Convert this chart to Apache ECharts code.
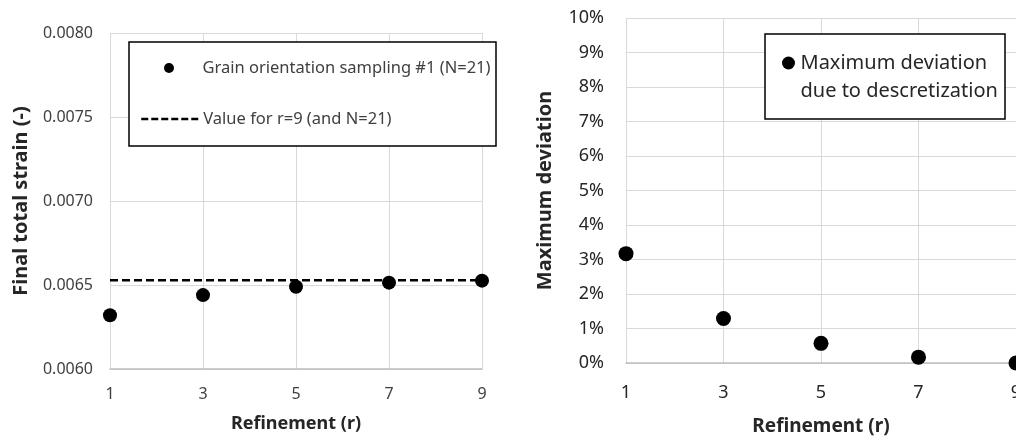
<!DOCTYPE html>
<html>
<head>
<meta charset="utf-8">
<script src="https://cdn.jsdelivr.net/npm/echarts@6/dist/echarts.min.js"></script>
<style>
html,body{margin:0;padding:0;background:#fff;}
#chart{width:1016px;height:439px;}
</style>
</head>
<body>
<div id="chart"></div>
<script>
// ---- data ----
const refinements = ['1', '3', '5', '7', '9'];
const finalStrain = [0.00632, 0.00644, 0.00649, 0.006514, 0.006526];
const refValueR9 = 0.006528;
const maxDeviationPct = [3.17, 1.29, 0.57, 0.17, 0.0];

const strainSeriesName = 'Grain orientation sampling #1 (N=21)';
const refSeriesName = 'Value for r=9 (and N=21)';
const devSeriesName = 'Maximum deviation\ndue to descretization';

const FONT = '"Noto Sans", sans-serif';

const chart = echarts.init(document.getElementById('chart'), null, {renderer: 'canvas'});

const option = {
  backgroundColor: '#ffffff',
  animation: false,
  textStyle: {fontFamily: FONT},
  grid: [
    {left: 110, right: 534, top: 33, bottom: 70, outerBoundsMode: 'none', containLabel: false},
    {left: 626, right: 0, top: 18, bottom: 76, outerBoundsMode: 'none', containLabel: false}
  ],
  xAxis: [
    {
      gridIndex: 0, type: 'category', data: refinements, boundaryGap: false,
      name: 'Refinement (r)', nameLocation: 'middle', nameGap: 46,
      nameTextStyle: {fontFamily: FONT, fontSize: 18, fontWeight: 'bold', color: '#262626'},
      axisLine: {show: true, lineStyle: {color: '#bfbfbf', width: 1.5}},
      axisTick: {show: false},
      axisLabel: {margin: 17, fontSize: 16, color: '#404040', fontFamily: FONT},
      splitLine: {show: true, lineStyle: {color: '#d9d9d9', width: 1}}
    },
    {
      gridIndex: 1, type: 'category', data: refinements, boundaryGap: false,
      name: 'Refinement (r)', nameLocation: 'middle', nameGap: 54,
      nameTextStyle: {fontFamily: FONT, fontSize: 19, fontWeight: 'bold', color: '#262626'},
      axisLine: {show: true, lineStyle: {color: '#bfbfbf', width: 1.5}},
      axisTick: {show: false},
      axisLabel: {margin: 21, fontSize: 18, color: '#262626', fontFamily: FONT},
      splitLine: {show: true, lineStyle: {color: '#d9d9d9', width: 1}}
    }
  ],
  yAxis: [
    {
      gridIndex: 0, type: 'value', min: 0.006, max: 0.008, interval: 0.0005,
      name: 'Final total strain (-)', nameLocation: 'middle', nameGap: 79,
      nameTextStyle: {fontFamily: FONT, fontSize: 20, fontWeight: 'bold', color: '#262626'},
      axisLine: {show: false}, axisTick: {show: false},
      axisLabel: {margin: 17, fontSize: 16, color: '#404040', fontFamily: FONT,
        formatter: v => v.toFixed(4)},
      splitLine: {show: true, lineStyle: {color: '#d9d9d9', width: 1}}
    },
    {
      gridIndex: 1, type: 'value', min: 0, max: 10, interval: 1,
      name: 'Maximum deviation', nameLocation: 'middle', nameGap: 71,
      nameTextStyle: {fontFamily: FONT, fontSize: 20, fontWeight: 'bold', color: '#262626'},
      axisLine: {show: false}, axisTick: {show: false},
      axisLabel: {margin: 22, fontSize: 18, color: '#262626', fontFamily: FONT,
        formatter: v => v + '%'},
      splitLine: {show: true, lineStyle: {color: '#d9d9d9', width: 1}}
    }
  ],
  graphic: [
    {type: 'rect', z: 8, shape: {x: 129, y: 42, width: 367, height: 104},
      style: {fill: '#ffffff', stroke: '#000000', lineWidth: 1.5}},
    {type: 'rect', z: 8, shape: {x: 765, y: 34, width: 240, height: 85},
      style: {fill: '#ffffff', stroke: '#000000', lineWidth: 1.5}}
  ],
  legend: [
    {
      data: [strainSeriesName], left: 164, top: 58, padding: 0, z: 10,
      selectedMode: false, itemWidth: 57, itemHeight: 10,
      textStyle: {fontFamily: FONT, fontSize: 16.5, color: '#404040', lineHeight: 20}
    },
    {
      data: [refSeriesName], left: 140, top: 109, padding: 0, z: 10,
      selectedMode: false, itemWidth: 57, itemHeight: 10,
      itemStyle: {opacity: 0},
      lineStyle: {color: '#000000', width: 2.5, type: [7, 3]},
      textStyle: {fontFamily: FONT, fontSize: 16.5, color: '#404040', lineHeight: 20}
    },
    {
      data: [devSeriesName], left: 782, top: 21, padding: 0, z: 10,
      selectedMode: false, itemWidth: 14, itemHeight: 13,
      formatter: name => '\n' + name,
      textStyle: {fontFamily: FONT, fontSize: 20, color: '#262626', lineHeight: 28}
    }
  ],
  series: [
    {
      name: strainSeriesName, type: 'scatter', xAxisIndex: 0, yAxisIndex: 0,
      data: finalStrain, symbol: 'circle', symbolSize: 14,
      itemStyle: {color: '#000000', opacity: 1}, z: 3
    },
    {
      name: refSeriesName, type: 'line', xAxisIndex: 0, yAxisIndex: 0,
      data: [[refinements[0], refValueR9], [refinements[refinements.length - 1], refValueR9]],
      symbol: 'none', itemStyle: {color: '#000000'},
      lineStyle: {color: '#000000', width: 2.5, type: [8, 4]}, z: 2
    },
    {
      name: devSeriesName, type: 'scatter', xAxisIndex: 1, yAxisIndex: 1,
      data: maxDeviationPct, symbol: 'circle', symbolSize: 15,
      itemStyle: {color: '#000000', opacity: 1}, z: 3
    }
  ]
};
chart.setOption(option);
</script>
</body>
</html>
